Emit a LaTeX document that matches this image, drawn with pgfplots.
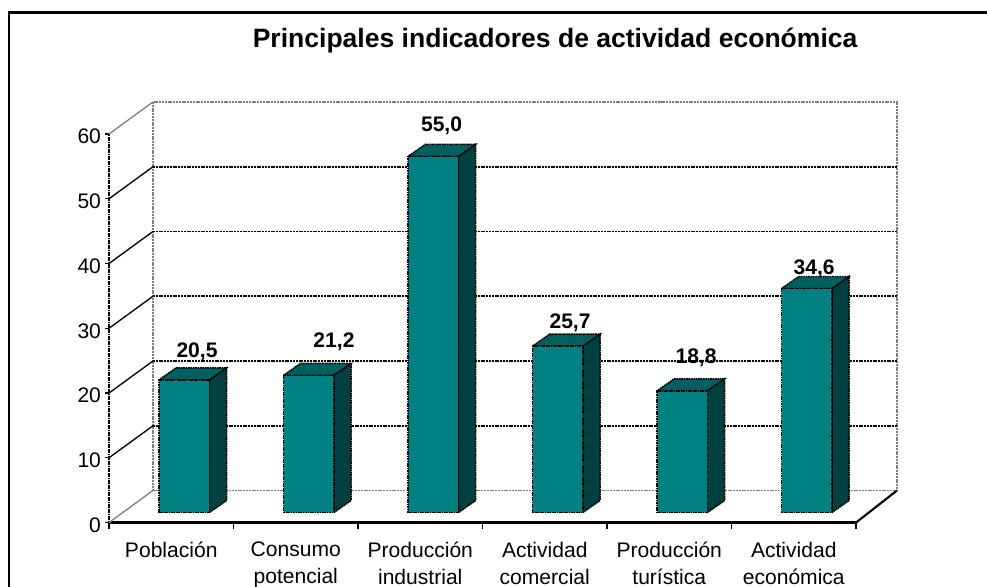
\documentclass[border=0pt]{standalone}
\usepackage{fontspec}
\setmainfont{Liberation Sans}
\usepackage{pgfplots}
\pgfplotsset{compat=1.18}

\definecolor{barfront}{HTML}{008080}
\definecolor{barside}{HTML}{004040}
\definecolor{bartop}{HTML}{006060}
\definecolor{wallgray}{HTML}{808080}

% 1 px of the reference = 0.75pt
\tikzset{
  griddash/.style={line width=1.3pt,dash pattern=on 1.5pt off 0.6pt},
  barshift/.style={xshift=9.7pt,yshift=7.5pt},
  baredge/.style={draw=black,line width=1.1pt,dash pattern=on 1.3pt off 0.5pt},
}

% side and top of one bar: centre, value
\newcommand{\barfacets}[2]{
  \pgfmathsetmacro{\xa}{#1-0.202}
  \pgfmathsetmacro{\xb}{#1+0.202}
  \pgfmathsetmacro{\xc}{#1+0.340}
  \pgfmathsetmacro{\xd}{#1-0.064}
  \pgfmathsetmacro{\yt}{#2+1.85}
  \addplot[baredge,barshift,fill=barside] coordinates {(\xb,0) (\xc,1.85) (\xc,\yt) (\xb,#2)} -- cycle;
  \addplot[baredge,barshift,fill=bartop] coordinates {(\xa,#2) (\xb,#2) (\xc,\yt) (\xd,\yt)} -- cycle;
}

% one gridline: value
\newcommand{\gridat}[1]{
  \pgfmathsetmacro{\yb}{#1+4.95}
  \addplot[black,line width=1pt] coordinates {(0,#1) (0.3534,\yb)};
  \addplot[black,griddash] coordinates {(0.3534,\yb) (6.329,\yb)};
}

\begin{document}
\begin{tikzpicture}
\begin{axis}[
    scale only axis,
    width=560.25pt,
    height=291.4pt,
    xmin=0, xmax=6,
    ymin=0, ymax=60,
    clip=false,
    axis x line=bottom,
    axis y line=left,
    x axis line style={-,line width=1.6pt},
    y axis line style={-,line width=1.3pt,dash pattern=on 1.3pt off 0.5pt},
    xtick={0.5,1.5,2.5,3.5,4.5,5.5},
    minor xtick={0,1,2,3,4,5,6},
    ytick={0,10,20,30,40,50,60},
    xticklabels={Población,{Consumo\\potencial},{Producción\\industrial},{Actividad\\comercial},{Producción\\turística},{Actividad\\económica}},
    tick align=outside,
    major tick length=3pt,
    minor tick length=4.5pt,
    major x tick style={draw=none},
    tick style={black,line width=1pt},
    every tick label/.append style={font=\fontsize{15.8}{20.3}\selectfont},
    x tick label style={align=center,anchor=north,yshift=-8pt},
    y tick label style={xshift=0.5pt,yshift=-2pt},
    /pgf/number format/assume math mode=true,
]
% outer frame, open at the right and at the bottom
\addplot[black,line width=1.6pt] coordinates {(-0.803,-10) (-0.803,78.76) (7.1,78.76)};

% walls and floor
\addplot[wallgray,griddash] coordinates {(0.3534,4.95) (0.3534,64.95) (6.329,64.95) (6.329,4.95) (0.3534,4.95)};
\addplot[wallgray,line width=1pt] coordinates {(0,60) (0.3534,64.95)};
\addplot[wallgray,line width=1pt] coordinates {(0,0) (0.3534,4.95)};
\addplot[black,line width=1.6pt] coordinates {(6,0) (6.329,4.95)};
\gridat{10}
\gridat{20}
\gridat{30}
\gridat{40}
\gridat{50}

% bars
\barfacets{0.5}{20.5}
\barfacets{1.5}{21.2}
\barfacets{2.5}{55.0}
\barfacets{3.5}{25.7}
\barfacets{4.5}{18.8}
\barfacets{5.5}{34.6}
\addplot[ybar,bar width=37.7pt,baredge,barshift,fill=barfront] coordinates {
    (0.5,20.5) (1.5,21.2) (2.5,55.0) (3.5,25.7) (4.5,18.8) (5.5,34.6)
};

% value labels
\tikzset{vallabel/.style={font=\fontsize{15.8}{18}\selectfont\bfseries,anchor=center,inner sep=0pt,yshift=-1.5pt}}
\node[vallabel] at (axis cs:0.707,26.64) {20,5};
\node[vallabel] at (axis cs:1.807,28.19) {21,2};
\node[vallabel] at (axis cs:2.671,61.54) {55,0};
\node[vallabel] at (axis cs:3.703,31.12) {25,7};
\node[vallabel] at (axis cs:4.715,25.71) {18,8};
\node[vallabel] at (axis cs:5.663,39.50) {34,6};

% title
\node[font=\fontsize{19.9}{24}\selectfont\bfseries,anchor=center,inner sep=0pt,yshift=-2.2pt] at (axis cs:3.583,74.83) {Principales indicadores de actividad económica};

\coordinate (pagesw) at (axis cs:-0.8755,-9.807);
\coordinate (pagene) at (axis cs:7.052,80.695);
\end{axis}
\pgfresetboundingbox
\useasboundingbox (pagesw) rectangle (pagene);
\end{tikzpicture}
\end{document}
